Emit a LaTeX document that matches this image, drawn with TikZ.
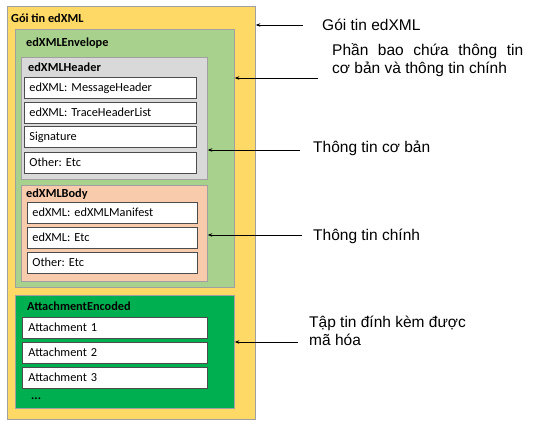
\documentclass[tikz,border=0pt]{standalone}
\usepackage{fontspec}
\setmainfont{Carlito}
\newfontfamily\lsans{Liberation Sans}
\usetikzlibrary{arrows.meta}
\definecolor{cyel}{HTML}{FFD966}
\definecolor{cenv}{HTML}{A9D18E}
\definecolor{chdr}{HTML}{D9D9D9}
\definecolor{cbody}{HTML}{F8CBAD}
\definecolor{catt}{HTML}{00B050}
\definecolor{cbord}{HTML}{A0A0A0}
\frenchspacing
\tikzset{
  cont/.style={draw=cbord, line width=0.8pt, inner sep=0pt, anchor=north west},
  item/.style={draw=black!70, line width=0.9pt, fill=white, anchor=north west,
    minimum height=21pt, inner xsep=5pt, inner ysep=0pt, align=left,
    font=\fontsize{12.3}{14}\selectfont, text height=8.6pt, text depth=1pt},
  ttl/.style={anchor=base west, inner sep=0pt, font=\bfseries\fontsize{12.3}{14}\selectfont},
  lab/.style={anchor=base west, inner sep=0pt, align=left, font=\lsans\fontsize{15.5}{18.5}\selectfont},
  arr/.style={-{Stealth[length=4.5pt,width=3.5pt]}, line width=0.8pt, black}
}
\begin{document}
\begin{tikzpicture}[x=1pt,y=-1pt]
\useasboundingbox[fill=white] (0,0) rectangle (539,430);
% containers
\node[cont, fill=cyel, minimum width=248pt, minimum height=413pt] (yel) at (7,6) {};
\node[cont, fill=cenv, minimum width=219pt, minimum height=258pt] (env) at (15,29) {};
\node[cont, fill=chdr, minimum width=186pt, minimum height=122pt] (hdr) at (21,57) {};
\node[cont, fill=cbody, minimum width=186pt, minimum height=96pt] (body) at (21,185) {};
\node[cont, fill=catt, minimum width=219pt, minimum height=113pt] (att) at (15,295) {};
% titles
\node[ttl] (tyel) at (11,23) {Gói tin edXML};
\node[ttl] (tenv) at (26,47) {edXMLEnvelope};
\node[ttl] (thdr) at (28,72) {edXMLHeader};
\node[ttl] (tbody) at (26,198) {edXMLBody};
\node[ttl] (tatt) at (27,311) {AttachmentEncoded};
\node[ttl] (tdots) at (31,400) {...};
% header items
\node[item, text width=162pt] (h1) at (24,77) {edXML: MessageHeader};
\node[item, text width=162pt] (h2) at (24,102) {edXML: TraceHeaderList};
\node[item, text width=162pt] (h3) at (24,126) {Signature};
\node[item, text width=162pt] (h4) at (24,152) {Other: Etc};
% body items
\node[item, text width=160pt] (b1) at (27,202) {edXML: edXMLManifest};
\node[item, text width=160pt] (b2) at (27,227) {edXML: Etc};
\node[item, text width=160pt] (b3) at (27,252) {Other: Etc};
% attachments
\node[item, inner xsep=6pt, text width=173pt] (a1) at (22,317) {Attachment 1};
\node[item, inner xsep=6pt, text width=173pt] (a2) at (22,342) {Attachment 2};
\node[item, inner xsep=6pt, text width=173pt] (a3) at (22,367) {Attachment 3};
% labels
\node[lab] (l1) at (322,31) {Gói tin edXML};
\node[lab] (l2) at (332,74) {\makebox[191pt][s]{Phần bao chứa thông tin}\\cơ bản và thông tin chính};
\node[lab] (l3) at (313,153) {Thông tin cơ bản};
\node[lab] (l4) at (313,241) {Thông tin chính};
\node[lab] (l5) at (309,346) {Tập tin đính kèm được\\mã hóa};
% arrows
\coordinate (s1) at (303,25);
\coordinate (s2) at (318,78);
\coordinate (s3) at (300,150);
\coordinate (s4) at (302,235);
\coordinate (s5) at (298,342);
\draw[arr] (s1) -- (s1 -| yel.east);
\draw[arr] (s2) -- (s2 -| env.east);
\draw[arr] (s3) -- (s3 -| hdr.east);
\draw[arr] (s4) -- (s4 -| body.east);
\draw[arr] (s5) -- (s5 -| att.east);
\end{tikzpicture}
\end{document}
